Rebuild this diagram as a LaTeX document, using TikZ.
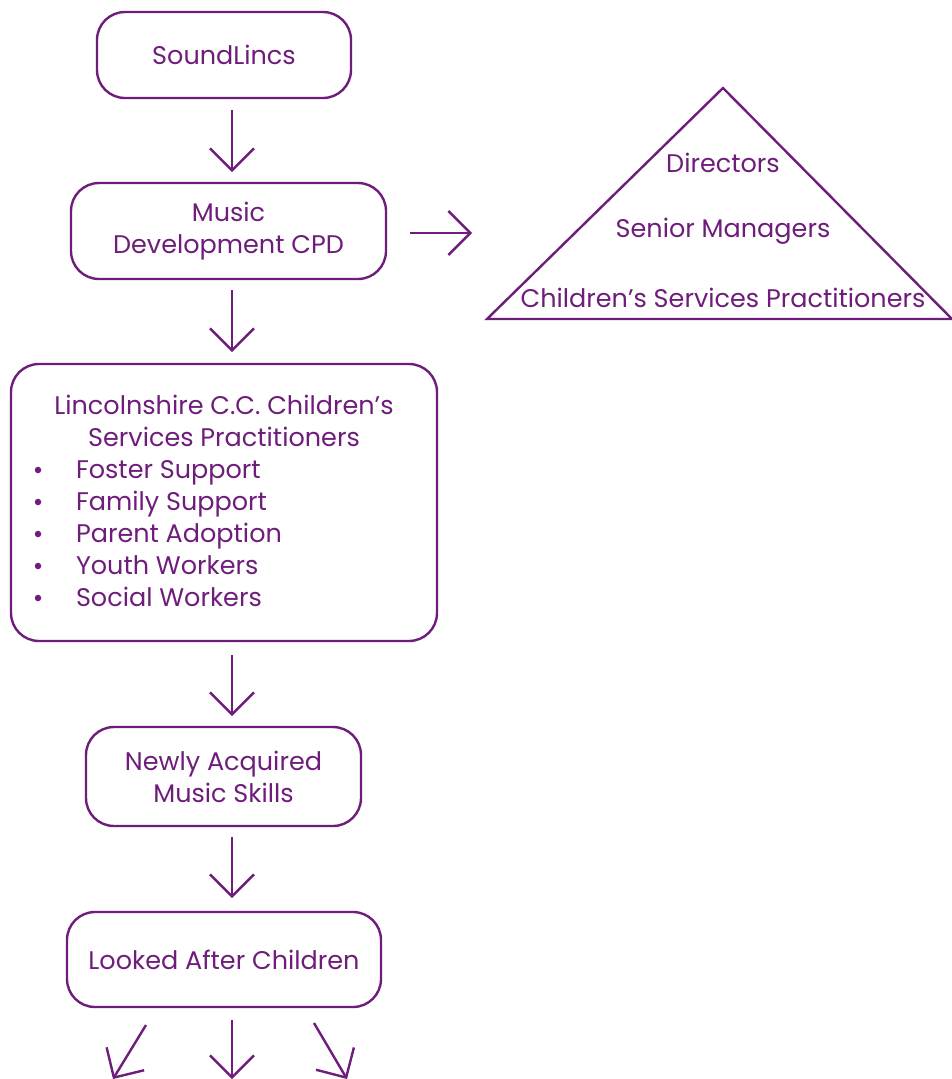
\documentclass[tikz,border=0pt]{standalone}
\usepackage{fontspec}
\setmainfont{Poppins}
\usetikzlibrary{arrows.meta}
\definecolor{lincsPurple}{RGB}{110,30,122}
\begin{document}
\begin{tikzpicture}[x=1pt,y=-1pt,inner sep=0pt,outer sep=0pt,
  every node/.style={text=lincsPurple,font=\fontsize{25.5}{32}\selectfont},
  flowbox/.style={draw=lincsPurple,rectangle,rounded corners=28pt,line width=2.4pt,align=center},
  listdot/.style={circle,fill=lincsPurple,minimum size=6.5pt},
  flowarrow/.style={draw=lincsPurple,line width=2.4pt,-{Straight Barb[length=22pt,width=44pt,line width=2.4pt]}}]
\useasboundingbox (0,0) rectangle (952,1079);
\coordinate (spine) at (232,0);
% main column
\draw (224,55) node[flowbox,minimum width=254pt,minimum height=86pt] (sound) {SoundLincs};
\draw (228.5,231) node[flowbox,minimum width=315pt,minimum height=96pt] (cpd) {Music\\Development CPD};
\draw (224,502.5) node[flowbox,minimum width=426pt,minimum height=277pt] (pract) {};
\draw (224,421) node[align=center] (practtitle) {Lincolnshire C.C. Children's\\Services Practitioners};
\foreach \job [count=\i from 0] in {Foster Support,Family Support,Parent Adoption,Youth Workers,Social Workers}
  \draw (38,470+32*\i) node[listdot] (dot\i) {} (76,478+32*\i) node[anchor=base west] (job\i) {\job};
\draw (223.5,776.5) node[flowbox,minimum width=275pt,minimum height=99pt] (skills) {Newly Acquired\\Music Skills};
\draw (224,959.5) node[flowbox,minimum width=314pt,minimum height=95pt] (kids) {Looked After Children};
\draw[flowarrow] (sound.south -| spine) ++(0,12) -- ([yshift=11pt]cpd.north -| spine);
\draw[flowarrow] (cpd.south -| spine) ++(0,11) -- ([yshift=12pt]pract.north -| spine);
\draw[flowarrow] (pract.south -| spine) ++(0,14) -- ([yshift=11pt]skills.north -| spine);
\draw[flowarrow] (skills.south -| spine) ++(0,11) -- ([yshift=14pt]kids.north -| spine);
% fan out below
\coordinate (outL) at (113,1079);
\coordinate (outM) at (232,1079);
\coordinate (outR) at (347,1079);
\draw[flowarrow] (kids.south -| 146,0) ++(0,18) -- (outL);
\draw[flowarrow] (kids.south -| spine) ++(0,13) -- (outM);
\draw[flowarrow] (kids.south -| 314,0) ++(0,16) -- (outR);
% staff pyramid
\coordinate (apex) at (723,88);
\coordinate (baseL) at (487,319);
\coordinate (baseR) at (952,319);
\draw[draw=lincsPurple,line width=2.4pt,line join=miter] (apex) -- (baseL) -- (baseR) -- cycle;
\draw (723,163) node (directors) {Directors};
\draw (723,231) node (seniors) {Senior Managers};
\draw (723,298) node (practs) {Children's Services Practitioners};
\coordinate (pyrin) at (472,233);
\draw[flowarrow] (cpd.east |- pyrin) ++(24,0) -- (pyrin);
\end{tikzpicture}
\end{document}
